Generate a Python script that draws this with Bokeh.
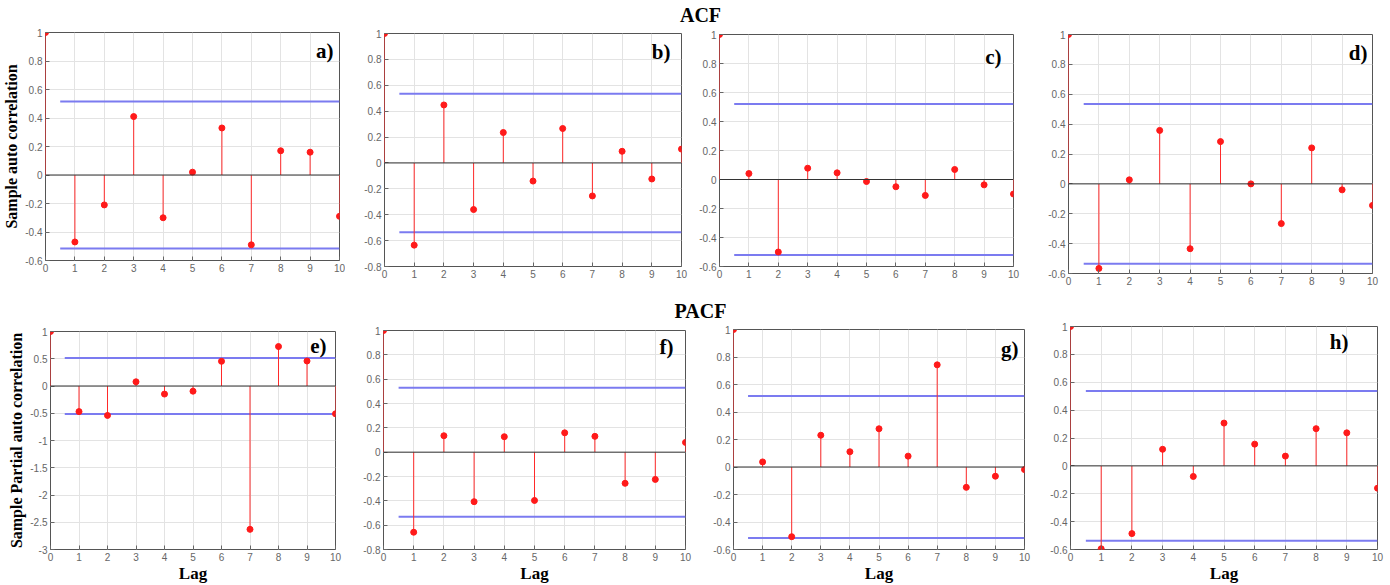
from bokeh.plotting import figure
from bokeh.layouts import column, row
from bokeh.models import Range1d, FixedTicker, CustomJSTickFormatter, Label, Span
from bokeh.embed import file_html
from bokeh.resources import INLINE

# ---------------- data ----------------
lags = [0, 1, 2, 3, 4, 5, 6, 7, 8, 9, 10]

acf_a = [1, -0.47, -0.21, 0.41, -0.30, 0.02, 0.33, -0.49, 0.17, 0.16, -0.29]
acf_b = [1, -0.635, 0.448, -0.36, 0.235, -0.14, 0.266, -0.255, 0.09, -0.124, 0.107]
acf_c = [1, 0.041, -0.50, 0.078, 0.046, -0.014, -0.05, -0.11, 0.069, -0.037, -0.10]
acf_d = [1, -0.566, 0.027, 0.358, -0.434, 0.283, 0.0, -0.266, 0.241, -0.04, -0.144]
pacf_e = [1, -0.47, -0.54, 0.077, -0.148, -0.095, 0.453, -2.63, 0.724, 0.459, -0.51]
pacf_f = [1, -0.658, 0.135, -0.407, 0.127, -0.397, 0.159, 0.13, -0.256, -0.224, 0.08]
pacf_g = [1, 0.037, -0.507, 0.231, 0.111, 0.278, 0.079, 0.743, -0.148, -0.067, -0.019]
pacf_h = [1, -0.595, -0.486, 0.119, -0.076, 0.307, 0.156, 0.07, 0.267, 0.237, -0.16]

bounds = {"a": 0.515, "b": 0.535, "c": 0.52, "d": 0.535,
          "e": 0.515, "f": 0.53, "g": 0.517, "h": 0.537}

y_min = {"a": -0.6, "b": -0.8, "c": -0.6, "d": -0.6,
         "e": -3.0, "f": -0.8, "g": -0.6, "h": -0.6}

ticks_06 = [-0.6, -0.4, -0.2, 0, 0.2, 0.4, 0.6, 0.8, 1]
ticks_08 = [-0.8, -0.6, -0.4, -0.2, 0, 0.2, 0.4, 0.6, 0.8, 1]
ticks_3 = [-3, -2.5, -2, -1.5, -1, -0.5, 0, 0.5, 1]

panel_titles = ["a)", "b)", "c)", "d)", "e)", "f)", "g)", "h)"]
row_titles = ["ACF", "PACF"]
ylabel_acf = "Sample auto correlation"
ylabel_pacf = "Sample Partial auto correlation"
xlabel = "Lag"

SERIF = "Liberation Serif"
SANS = "Liberation Sans"

fmt = CustomJSTickFormatter(code="return (Math.round(tick*100)/100).toString();")


def panel(key, vals, yticks, width, height, bl, br, bt, bb,
          lab_dx, lab_dy, ylabel=None, show_xlabel=False):
    ymn = y_min[key]
    p = figure(width=width, height=height,
               x_range=Range1d(0, 10), y_range=Range1d(ymn, 1),
               min_border_left=bl, min_border_right=br,
               min_border_top=bt, min_border_bottom=bb,
               toolbar_location=None, output_backend="svg",
               background_fill_color="white", border_fill_color="white")
    p.outline_line_color = "#555555"
    p.outline_line_width = 1

    p.xaxis.ticker = FixedTicker(ticks=lags)
    p.yaxis.ticker = FixedTicker(ticks=yticks)
    p.yaxis.formatter = fmt
    for ax in (p.xaxis[0], p.yaxis[0]):
        ax.axis_line_color = None
        ax.major_tick_in = 4
        ax.major_tick_out = 0
        ax.major_tick_line_color = "#666666"
        ax.minor_tick_line_color = None
        ax.major_label_text_font = SANS
        ax.major_label_text_font_size = "10px"
        ax.major_label_text_color = "#666666"
        ax.major_label_standoff = 3
    p.xgrid.grid_line_color = "#e3e3e3"
    p.ygrid.grid_line_color = "#e3e3e3"

    if ylabel:
        p.yaxis.axis_label = ylabel
        p.yaxis.axis_label_text_font = SERIF
        p.yaxis.axis_label_text_font_style = "bold"
        p.yaxis.axis_label_text_font_size = "16px"
        p.yaxis.axis_label_text_color = "black"
        p.yaxis.axis_label_standoff = 2
    if show_xlabel:
        p.xaxis.axis_label = xlabel
        p.xaxis.axis_label_text_font = SERIF
        p.xaxis.axis_label_text_font_style = "bold"
        p.xaxis.axis_label_text_font_size = "17px"
        p.xaxis.axis_label_text_color = "black"
        p.xaxis.axis_label_standoff = 0

    # zero baseline
    p.add_layout(Span(location=0, dimension="width", line_color="#333333", line_width=1))
    # confidence bounds
    b = bounds[key]
    p.segment(x0=[0.5, 0.5], x1=[10, 10], y0=[b, -b], y1=[b, -b],
              line_color="#7b7bf0", line_width=2)
    # stems
    p.segment(x0=lags, x1=lags, y0=[0] * len(lags), y1=vals,
              line_color="#ff2a2a", line_width=1)
    p.scatter(lags, vals, size=6, fill_color="#ff1a1a", line_color="#ff1a1a")

    p.add_layout(Label(x=10, y=1, x_offset=-lab_dx, y_offset=-lab_dy,
                       text=panel_titles["abcdefgh".index(key)],
                       text_font=SERIF, text_font_style="bold",
                       text_font_size="21px", text_align="right",
                       text_baseline="top", text_color="black"))
    return column(p, spacing=0)


def strip(height, text, y):
    s = figure(width=1390, height=height, x_range=Range1d(0, 1390),
               y_range=Range1d(0, height), min_border=0,
               toolbar_location=None, output_backend="svg",
               x_axis_type=None, y_axis_type=None)
    s.outline_line_color = None
    s.grid.visible = False
    s.add_layout(Label(x=700, y=y, text=text, text_font=SERIF,
                       text_font_style="bold", text_font_size="20px",
                       text_align="center", text_baseline="middle",
                       text_color="black"))
    return s


s1 = strip(26, row_titles[0], 12)
pa = panel("a", acf_a, ticks_06, 345, 262, 45, 6, 6, 28, 6, 6, ylabel=ylabel_acf)
pb = panel("b", acf_b, ticks_08, 345, 262, 39, 9, 7, 22, 11, 6)
pc = panel("c", acf_c, ticks_06, 340, 262, 29, 17, 8, 22, 12, 10)
pd = panel("d", acf_d, ticks_06, 360, 262, 38, 18, 8, 15, 5, 6)

s2 = strip(32, row_titles[1], 10)
pe = panel("e", pacf_e, ticks_3, 345, 265, 50, 10, 11, 29, 9, 2,
           ylabel=ylabel_pacf, show_xlabel=True)
pf = panel("f", pacf_f, ticks_08, 350, 265, 38, 10, 10, 29, 12, 4, show_xlabel=True)
pg = panel("g", pacf_g, ticks_06, 340, 265, 38, 11, 9, 26, 6, 7, show_xlabel=True)
ph = panel("h", pacf_h, ticks_06, 355, 265, 35, 13, 6, 33, 29, 3, show_xlabel=True)

layout = column(s1, row(pa, pb, pc, pd, spacing=0), s2,
                row(pe, pf, pg, ph, spacing=0), spacing=0)

open("out.html", "w").write(file_html(layout, INLINE))
